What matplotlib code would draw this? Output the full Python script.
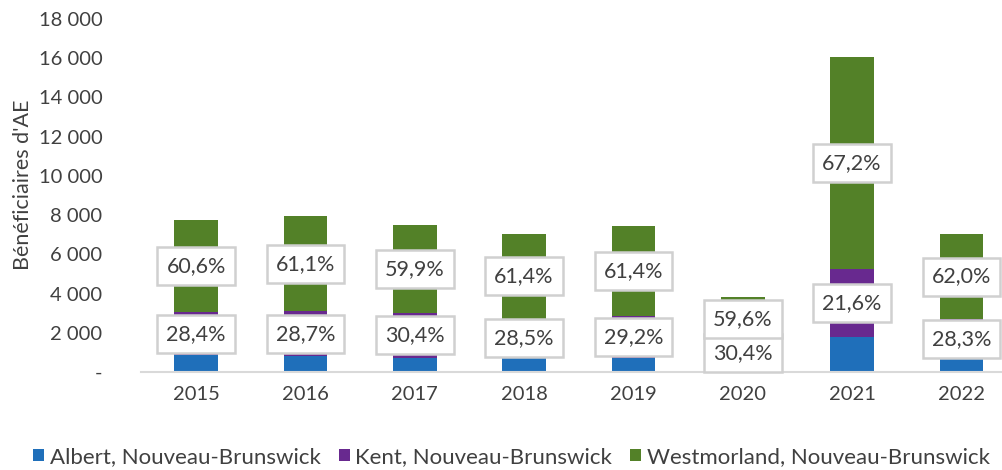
import numpy as np
import matplotlib
matplotlib.use("Agg")
import matplotlib.pyplot as plt
from matplotlib.ticker import FuncFormatter

plt.rcParams['font.family'] = ['Lato', 'DejaVu Sans']

years = ['2015', '2016', '2017', '2018', '2019', '2020', '2021', '2022']
albert = [850, 810, 730, 710, 700, 385, 1790, 685]
kent = [2200, 2280, 2280, 2010, 2175, 1165, 3470, 1995]
westmorland = [4700, 4860, 4490, 4330, 4575, 2280, 10790, 4370]
kent_pct = ['28,4%', '28,7%', '30,4%', '28,5%', '29,2%', '30,4%', '21,6%', '28,3%']
west_pct = ['60,6%', '61,1%', '59,9%', '61,4%', '61,4%', '59,6%', '67,2%', '62,0%']

series = ['Albert, Nouveau-Brunswick', 'Kent, Nouveau-Brunswick', 'Westmorland, Nouveau-Brunswick']
colors = ['#1f6fba', '#68298f', '#538128']
txt = '#404040'

fig = plt.figure(figsize=(10.03, 4.70), dpi=100)
ax = fig.add_axes([141.4/1003, 98/470, (1003-141.4)/1003, 353/470])

x = np.arange(len(years))
a = np.array(albert)
k = np.array(kent)
w = np.array(westmorland)
w_ = 0.40
ax.bar(x, a, w_, color=colors[0], label=series[0])
ax.bar(x, k, w_, bottom=a, color=colors[1], label=series[1])
ax.bar(x, w, w_, bottom=a + k, color=colors[2], label=series[2])

# data labels: Kent and Westmorland shares, centred in their segments
box = dict(boxstyle='square,pad=0.42', fc='white', ec='#d0d0d0', lw=1.8)
for i in range(len(years)):
    ax.text(x[i], a[i] + k[i] / 2, kent_pct[i], ha='center', va='center',
            fontsize=15.5, color=txt, bbox=box, zorder=5)
    ax.text(x[i], a[i] + k[i] + w[i] / 2, west_pct[i], ha='center', va='center',
            fontsize=15.5, color=txt, bbox=box, zorder=5)

ax.set_xlim(-0.5, 7.38)
ax.set_ylim(0, 18000)
ax.set_yticks(np.arange(0, 18001, 2000))
ax.yaxis.set_major_formatter(FuncFormatter(lambda v, p: '-' if v == 0 else f'{int(v):,}'.replace(',', ' ')))
ax.set_xticks(x)
ax.set_xticklabels(years)
ax.tick_params(axis='both', length=0, labelsize=14.5, labelcolor=txt)
ax.tick_params(axis='y', pad=28)
ax.tick_params(axis='x', pad=10)
for s in ['top', 'right', 'left']:
    ax.spines[s].set_visible(False)
ax.spines['bottom'].set_color('#d9d9d9')
ax.spines['bottom'].set_linewidth(1.5)
ax.set_ylabel("Bénéficiaires d'AE", fontsize=15.5, color=txt)
ax.yaxis.set_label_coords(-108/861.6, 0.53)

fig.legend(loc='center', bbox_to_anchor=(0.51, 13/470), ncol=3, frameon=False,
           fontsize=16, labelcolor=txt, handlelength=0.5, handleheight=0.5,
           handletextpad=0.25, columnspacing=0.8)

fig.savefig('out.png', dpi=100)
